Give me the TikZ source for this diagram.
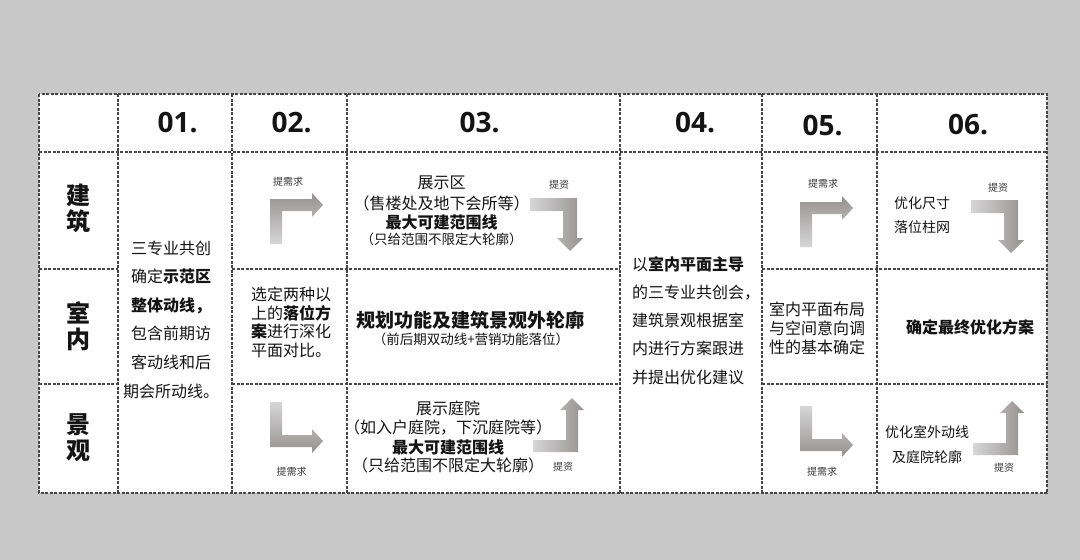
\documentclass[tikz,border=0pt]{standalone}
\usepackage{fontspec}
\setmainfont{Noto Sans CJK SC}
\newfontfamily\numfont{Open Sans}
\definecolor{bg}{RGB}{200,200,200}
\definecolor{gridc}{RGB}{70,70,70}
\definecolor{txt}{RGB}{20,20,20}
\definecolor{adark}{RGB}{150,145,145}
\definecolor{alight}{RGB}{214,214,214}
\begin{document}
\begin{tikzpicture}[x=1pt,y=-1pt,
  grid/.style={draw=gridc, line width=1.3pt, dash pattern=on 3pt off 1.5pt},
  num/.style={font=\numfont\bfseries\fontsize{28}{28}\selectfont, text=txt, inner sep=0},
  rowlab/.style={font=\bfseries\fontsize{24}{26}\selectfont, align=center, text=txt, inner sep=0},
  body/.style={text=txt, inner sep=0},
  small/.style={font=\fontsize{10}{10}\selectfont, text=txt!85, inner sep=0},
  arrU/.style={draw=none, top color=adark, bottom color=alight},
  arrD/.style={draw=none, top color=alight, bottom color=adark},
  arrR/.style={draw=none, left color=alight, right color=adark}]
\useasboundingbox (0,0) rectangle (1080,560);
\fill[bg] (0,0) rectangle (1080,560);
\fill[white] (39,94) rectangle (1047,493);
% grid
\draw[grid] (39,94) rectangle (1047,493);
\foreach \gx in {118,232,347,620,762,877} \draw[grid] (\gx,94) -- (\gx,493);
\draw[grid] (39,152) -- (1047,152);
\foreach \gy in {269,384} {
  \draw[grid] (39,\gy) -- (118,\gy);
  \draw[grid] (232,\gy) -- (620,\gy);
  \draw[grid] (762,\gy) -- (1047,\gy);
}
% header numbers
\node[num] (h1) at (177.5,122.5) {01.};
\node[num] (h2) at (291.5,122.5) {02.};
\node[num] (h3) at (479.5,122.5) {03.};
\node[num] (h4) at (695,123) {04.};
\node[num] (h5) at (822.5,126) {05.};
\node[num] (h6) at (968,125) {06.};
% row labels
\node[rowlab] (r1) at (78,208) {建\\筑};
\node[rowlab] (r2) at (78,326) {室\\内};
\node[rowlab] (r3) at (78,438) {景\\观};
% column 01
\node[body, font=\fontsize{16}{28.6}\selectfont, align=center] (c1) at (171,319.5)
  {三专业共创\\确定\textbf{示范区}\\\textbf{整体动线，}\\包含前期访\\客动线和后\\期会所动线。};
% column 02
\node[body, font=\fontsize{16}{18.5}\selectfont, align=center] (c2) at (291,322.5)
  {选定两种以\\上的\textbf{落位方}\\\textbf{案}进行深化\\平面对比。};
% column 03 row 1
\node[body, font=\fontsize{16}{16}\selectfont] (c3a) at (441.5,183) {展示区};
\node[body, font=\fontsize{16}{16}\selectfont] (c3b) at (441.5,203) {（售楼处及地下会所等）};
\node[body, font=\bfseries\fontsize{16}{16}\selectfont] (c3c) at (441.5,222) {最大可建范围线};
\node[body, font=\fontsize{13.5}{13.5}\selectfont] (c3d) at (441.5,239) {（只给范围不限定大轮廓）};
% column 03 row 2
\node[body, font=\bfseries\fontsize{19}{19}\selectfont] (c3e) at (470,320) {规划功能及建筑景观外轮廓};
\node[body, font=\fontsize{13.5}{13.5}\selectfont] (c3f) at (471,339) {（前后期双动线+营销功能落位）};
% column 03 row 3
\node[body, font=\fontsize{16}{16}\selectfont] (c3g) at (448,408) {展示庭院};
\node[body, font=\fontsize{16}{16}\selectfont] (c3h) at (448,428) {（如入户庭院，下沉庭院等）};
\node[body, font=\bfseries\fontsize{16}{16}\selectfont] (c3i) at (448,447) {最大可建范围线};
\node[body, font=\fontsize{16}{16}\selectfont] (c3j) at (448,465) {（只给范围不限定大轮廓）};
% column 04
\node[body, font=\fontsize{16}{28.2}\selectfont, align=left, anchor=west] (c4) at (632,320.5)
  {以\textbf{室内平面主导}\\的三专业共创会，\\建筑景观根据室\\内进行方案跟进\\并提出优化建议};
% column 05
\node[body, font=\fontsize{16}{19}\selectfont, align=center] (c5) at (817,328)
  {室内平面布局\\与空间意向调\\性的基本确定};
% column 06
\node[body, font=\fontsize{14}{24}\selectfont, align=center] (c6a) at (922,215) {优化尺寸\\落位柱网};
\node[body, font=\bfseries\fontsize{16}{16}\selectfont] (c6b) at (970,327) {确定最终优化方案};
\node[body, font=\fontsize{14}{25}\selectfont, align=center] (c6c) at (927,444.5) {优化室外动线\\及庭院轮廓};
% small labels
\node[small] (l1) at (288,182) {提需求};
\node[small] (l2) at (559,185) {提资};
\node[small] (l3) at (291.5,472) {提需求};
\node[small] (l4) at (563,467) {提资};
\node[small] (l5) at (823,184) {提需求};
\node[small] (l6) at (998,188) {提资};
\node[small] (l7) at (822,472) {提需求};
\node[small] (l8) at (1004,468) {提资};
% arrows
\path[arrU] (270,244) -- (270,199) -- (312,199) -- (312,193) -- (323,205) -- (312,217) -- (312,211) -- (282,211) -- (282,244) -- cycle;
\begin{scope}[shift={(530,3)}]
\path[arrU] (270,244) -- (270,199) -- (312,199) -- (312,193) -- (323,205) -- (312,217) -- (312,211) -- (282,211) -- (282,244) -- cycle;
\end{scope}
\path[arrD] (270,402) -- (282,402) -- (282,435) -- (312,435) -- (312,429) -- (323,441) -- (312,453) -- (312,447) -- (270,447) -- cycle;
\begin{scope}[shift={(530,4)}]
\path[arrD] (270,402) -- (282,402) -- (282,435) -- (312,435) -- (312,429) -- (323,441) -- (312,453) -- (312,447) -- (270,447) -- cycle;
\end{scope}
\path[arrR] (530,198) -- (577,198) -- (577,238) -- (583,238) -- (570,251) -- (557,238) -- (563,238) -- (563,211) -- (530,211) -- cycle;
\begin{scope}[shift={(441,2)}]
\path[arrR] (530,198) -- (577,198) -- (577,238) -- (583,238) -- (570,251) -- (557,238) -- (563,238) -- (563,211) -- (530,211) -- cycle;
\end{scope}
\path[arrR] (533,452) -- (533,440) -- (566,440) -- (566,410) -- (560,410) -- (572,398) -- (584,410) -- (578,410) -- (578,452) -- cycle;
\begin{scope}[shift={(440,3)}]
\path[arrR] (533,452) -- (533,440) -- (566,440) -- (566,410) -- (560,410) -- (572,398) -- (584,410) -- (578,410) -- (578,452) -- cycle;
\end{scope}
\end{tikzpicture}
\end{document}
